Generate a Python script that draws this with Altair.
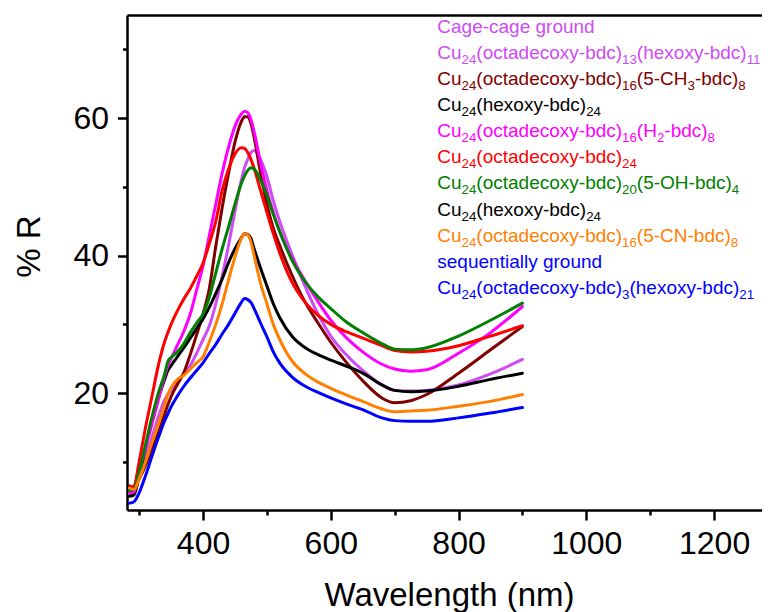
import altair as alt
import pandas as pd

# ---------------- data ----------------
WL = [285, 292, 300, 310, 320, 330, 340, 345, 350, 360, 370, 380, 390, 400, 410, 420,
      430, 440, 450, 460, 465, 470, 475, 480, 490, 500, 510, 520, 540, 560, 580, 600,
      625, 650, 680, 700, 725, 750, 800, 850, 900]

CAGE = [5.3, 5.4, 7.8, 10.5, 13.5, 16.5, 19.0, 19.8, 20.5, 21.8, 22.8, 24.0, 25.8, 27.8, 29.8, 33.0,
        37.0, 41.5, 46.5, 51.0, 52.8, 54.0, 55.0, 55.3, 54.0, 51.5, 48.0, 45.0, 40.0, 35.5, 31.5, 28.3,
        25.5, 23.3, 21.2, 20.4, 20.3, 20.4, 21.2, 22.8, 24.9]
CH3 = [6.5, 6.2, 7.5, 9.5, 11.8, 14.2, 17.0, 18.3, 19.5, 21.3, 23.0, 25.6, 28.5, 31.5, 35.3, 41.4,
       47.0, 52.0, 56.5, 59.5, 60.2, 60.2, 59.2, 57.2, 52.0, 47.5, 44.0, 41.5, 37.0, 33.2, 30.2, 27.4,
       24.4, 21.8, 19.3, 18.6, 18.9, 19.8, 22.9, 26.3, 29.7]
HEXOXY = [5.0, 5.2, 8.0, 12.0, 15.8, 19.2, 22.0, 23.3, 24.0, 25.3, 26.6, 28.0, 29.4, 30.8, 32.5, 34.5,
          36.6, 39.0, 41.0, 42.6, 43.2, 43.1, 42.5, 41.0, 38.2, 35.6, 33.0, 31.0, 28.2, 26.6, 25.6, 24.8,
          23.9, 22.9, 21.2, 20.4, 20.2, 20.3, 21.0, 22.0, 22.9]
H2 = [5.5, 5.6, 8.5, 12.0, 15.5, 19.0, 22.5, 24.0, 25.0, 27.0, 29.0, 31.5, 35.0, 38.5, 43.0, 47.5,
      52.0, 55.8, 58.8, 60.6, 61.0, 60.8, 59.8, 58.0, 53.5, 49.5, 46.3, 43.5, 39.5, 36.3, 33.3, 30.6,
      28.0, 26.0, 24.2, 23.5, 23.2, 23.4, 25.8, 28.8, 32.6]
OCT24 = [6.3, 6.5, 10.0, 15.0, 19.5, 24.0, 27.5, 28.8, 30.0, 32.0, 33.7, 35.2, 37.0, 38.9, 41.8, 45.0,
         49.5, 52.6, 54.8, 55.7, 55.6, 55.0, 54.0, 52.7, 49.5, 46.3, 43.2, 40.4, 36.0, 33.2, 31.3, 30.0,
         28.9, 28.0, 26.9, 26.2, 26.0, 26.1, 26.9, 28.3, 29.8]
OH = [5.8, 6.0, 8.5, 12.5, 16.5, 20.0, 22.8, 24.6, 25.2, 26.0, 27.2, 28.8, 30.2, 31.5, 34.0, 37.5,
      41.0, 44.2, 47.5, 50.5, 51.6, 52.4, 52.8, 52.6, 51.0, 48.8, 46.0, 43.5, 39.2, 36.2, 34.0, 32.3,
      30.3, 28.8, 27.2, 26.4, 26.3, 26.6, 28.3, 30.6, 33.1]
CN = [6.2, 6.0, 7.5, 10.0, 12.8, 15.5, 18.3, 19.8, 20.8, 22.0, 22.6, 23.5, 24.4, 25.3, 27.5, 30.0,
      33.0, 36.5, 39.8, 42.5, 43.2, 43.0, 42.0, 40.0, 36.0, 33.0, 30.0, 27.8, 24.6, 22.8, 21.6, 20.7,
      19.7, 18.8, 17.7, 17.3, 17.4, 17.5, 18.1, 18.8, 19.8]
SEQ = [4.0, 4.2, 5.5, 8.0, 10.8, 13.5, 16.0, 17.0, 18.0, 19.6, 21.0, 22.2, 23.3, 24.4, 25.8, 27.1,
       28.6, 30.0, 31.6, 33.2, 33.75, 33.6, 33.2, 32.3, 30.2, 28.2, 26.0, 24.4, 22.3, 21.0, 20.1, 19.3,
       18.4, 17.6, 16.4, 16.0, 15.9, 15.9, 16.4, 17.1, 17.9]

SERIES = ["cage", "ch3", "hexoxy", "h2", "oct24", "oh", "cn", "seq"]
SERIES_VALUES = [CAGE, CH3, HEXOXY, H2, OCT24, OH, CN, SEQ]
SERIES_COLORS = ["#CF4BF5", "#800000", "#000000", "#FF00FF", "#FF0000", "#008000", "#FF8000", "#0000FF"]

LEGEND_TEXT = [
    "Cage-cage ground",
    "Cu_{24}(octadecoxy-bdc)_{13}(hexoxy-bdc)_{11}",
    "Cu_{24}(octadecoxy-bdc)_{16}(5-CH_{3}-bdc)_{8}",
    "Cu_{24}(hexoxy-bdc)_{24}",
    "Cu_{24}(octadecoxy-bdc)_{16}(H_{2}-bdc)_{8}",
    "Cu_{24}(octadecoxy-bdc)_{24}",
    "Cu_{24}(octadecoxy-bdc)_{20}(5-OH-bdc)_{4}",
    "Cu_{24}(hexoxy-bdc)_{24}",
    "Cu_{24}(octadecoxy-bdc)_{16}(5-CN-bdc)_{8}",
    "sequentially ground",
    "Cu_{24}(octadecoxy-bdc)_{3}(hexoxy-bdc)_{21}",
]
LEGEND_COLORS = ["#CF4BF5", "#CF4BF5", "#800000", "#000000", "#FF00FF", "#FF0000",
                 "#008000", "#000000", "#FF8000", "#0000FF", "#0000FF"]

X_TICKS = [400, 600, 800, 1000, 1200]
X_MINOR = [300, 500, 700, 900, 1100]
Y_TICKS = [20, 40, 60]
Y_MINOR = [10, 30, 50, 70]

# ---------------- layout ----------------
FONT = "Liberation Sans"
PLOT_W, PLOT_H = 635, 495
X_DOMAIN = [281, 1275]
Y_DOMAIN = [3, 75]

rows = []
for name, vals in zip(SERIES, SERIES_VALUES):
    for w, v in zip(WL, vals):
        rows.append({"series": name, "wl": w, "r": v})
df = pd.DataFrame(rows)

# Arial / Liberation Sans advance widths (per 1000 em)
AW = {" ": 278, "(": 333, ")": 333, "-": 333, "C": 722, "H": 722, "N": 722, "O": 778,
      "a": 556, "b": 556, "c": 500, "d": 556, "e": 556, "g": 556, "h": 556, "i": 222,
      "l": 222, "n": 556, "o": 556, "p": 556, "q": 556, "r": 333, "s": 500, "t": 278,
      "u": 556, "x": 500, "y": 500}
for dgt in "0123456789":
    AW[dgt] = 556


def text_width(s, size):
    return sum(AW.get(ch, 556) for ch in s) * size / 1000.0


def split_markup(s):
    segs = []
    i = 0
    buf = ""
    while i < len(s):
        if s.startswith("_{", i):
            if buf:
                segs.append((buf, False))
                buf = ""
            j = s.index("}", i)
            segs.append((s[i + 2:j], True))
            i = j + 1
        else:
            buf += s[i]
            i += 1
    if buf:
        segs.append((buf, False))
    return segs


MAIN_FS, SUB_FS, SUB_DY = 19.0, 13.3, 5
LEG_X0 = 310.3
LEG_Y0 = 17.5
LEG_DY = 26.15

leg_rows = []
for k, (txt, col) in enumerate(zip(LEGEND_TEXT, LEGEND_COLORS)):
    x = LEG_X0
    base_y = LEG_Y0 + k * LEG_DY
    for seg, sub in split_markup(txt):
        fs = SUB_FS if sub else MAIN_FS
        leg_rows.append({"t": seg, "px": x, "py": base_y + (SUB_DY if sub else 0),
                         "fs": fs, "col": col})
        x += text_width(seg, fs)
leg_df = pd.DataFrame(leg_rows)

xscale = alt.Scale(domain=X_DOMAIN, nice=False, zero=False)
yscale = alt.Scale(domain=Y_DOMAIN, nice=False, zero=False)

base = alt.Chart(df)

lines = base.mark_line(strokeWidth=3, interpolate="monotone", strokeCap="round",
                       strokeJoin="round").encode(
    x=alt.X("wl:Q", scale=xscale,
            axis=alt.Axis(orient="bottom", values=X_TICKS, format="d", grid=False,
                          tickSize=10, tickWidth=2.5, tickColor="black",
                          domainWidth=2.5, domainColor="black",
                          labelFont=FONT, labelFontSize=32, labelColor="black",
                          labelPadding=33, labelBaseline="alphabetic", labelFlush=False,
                          title="Wavelength (nm)", titleFont=FONT, titleFontSize=33,
                          titleFontWeight="normal", titleColor="black",
                          titleBaseline="alphabetic", titleX=322, titleY=95)),
    y=alt.Y("r:Q", scale=yscale,
            axis=alt.Axis(orient="left", values=Y_TICKS, format="d", grid=False,
                          tickSize=9.5, tickWidth=2.5, tickColor="black",
                          domainWidth=2.5, domainColor="black",
                          labelFont=FONT, labelFontSize=32, labelColor="black",
                          labelPadding=9, labelFlush=False,
                          title="% R", titleFont=FONT, titleFontSize=33,
                          titleFontWeight="normal", titleColor="black",
                          titleBaseline="alphabetic", titleAngle=270,
                          titleX=-88, titleY=231)),
    color=alt.Color("series:N", scale=alt.Scale(domain=SERIES, range=SERIES_COLORS), legend=None),
    detail="series:N",
)

minor = base.mark_line(opacity=0).encode(
    x=alt.X("wl:Q", scale=xscale,
            axis=alt.Axis(orient="bottom", values=X_MINOR, grid=False, labels=False,
                          domain=False, tickSize=5, tickWidth=2.5, tickColor="black",
                          title=None)),
    y=alt.Y("r:Q", scale=yscale,
            axis=alt.Axis(orient="left", values=Y_MINOR, grid=False, labels=False,
                          domain=False, tickSize=4.5, tickWidth=2.5, tickColor="black",
                          title=None)),
    detail="series:N",
)

topline = base.mark_line(opacity=0).encode(
    x=alt.X("wl:Q", scale=xscale,
            axis=alt.Axis(orient="top", grid=False, labels=False, ticks=False,
                          domain=True, domainWidth=2.5, domainColor="black", title=None)),
    y=alt.Y("r:Q", scale=yscale, axis=None),
    detail="series:N",
)

legend = alt.Chart(leg_df).mark_text(align="left", baseline="alphabetic", font=FONT).encode(
    x=alt.X("px:Q", scale=None, axis=None),
    y=alt.Y("py:Q", scale=None, axis=None),
    text="t:N",
    size=alt.Size("fs:Q", scale=None, legend=None),
    color=alt.Color("col:N", scale=None, legend=None),
)

chart = alt.layer(lines, minor, topline, legend).resolve_axis(
    x="independent", y="independent"
).properties(
    width=PLOT_W, height=PLOT_H,
    padding={"left": 119, "top": 7, "right": 0, "bottom": 102},
    autosize=alt.AutoSizeParams(type="none"),
).configure_view(stroke=None)

chart.save("out.html", embed_options={"renderer": "svg", "actions": False})
